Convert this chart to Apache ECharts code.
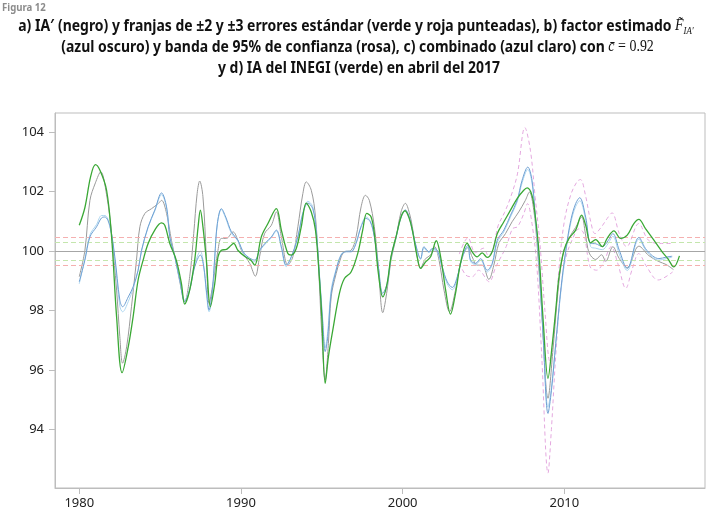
<!DOCTYPE html>
<html><head><meta charset="utf-8">
<script src="https://cdn.jsdelivr.net/npm/echarts@6/dist/echarts.min.js"></script>
<style>html,body{margin:0;padding:0;background:#fff}#c{width:713px;height:515px}</style>
</head><body><div id="c"></div>
<script>
// ---- data (year, value) ----
const xTicks = [1980, 1990, 2000, 2010];
const yTicks = [94, 96, 98, 100, 102, 104];
const baseLine = [100];
const greenBand = [100.31, 99.69];   // ±2 s.e.
const redBand = [100.465, 99.535];   // ±3 s.e.

const iaGray = [
[1980.0,99.14],[1980.35,100.03],[1980.66,101.71],[1981.0,102.3],[1981.33,102.67],[1981.69,101.9],[1982.0,100.59],[1982.31,98.69],[1982.51,97.12],[1982.68,96.23],[1982.93,96.78],[1983.23,98.13],[1983.54,99.70],[1983.75,100.82],[1984.06,101.27],[1984.47,101.43],[1984.88,101.60],[1985.09,101.71],[1985.4,101.27],[1985.7,100.37],[1986.0,99.59],[1986.32,98.69],[1986.52,98.30],[1986.83,99.14],[1987.08,100.59],[1987.29,101.94],[1987.45,102.36],[1987.65,101.83],[1987.86,99.81],[1988.03,98.24],[1988.27,98.91],[1988.58,100.03],[1988.79,100.43],[1989.1,100.43],[1989.51,100.65],[1989.81,100.37],[1990.03,100.03],[1990.54,99.59],[1990.89,99.16],[1991.15,99.81],[1991.46,100.59],[1991.88,100.87],[1992.19,101.32],[1992.5,100.48],[1992.9,99.53],[1993.21,99.81],[1993.52,100.82],[1993.83,101.94],[1994.04,102.33],[1994.35,102.05],[1994.61,101.15],[1994.8,99.47],[1995.0,97.23],[1995.21,95.66],[1995.41,96.9],[1995.58,98.46],[1995.89,99.25],[1996.2,99.81],[1996.4,99.98],[1996.81,100.03],[1997.12,100.48],[1997.43,101.49],[1997.7,101.88],[1997.94,101.71],[1998.25,100.82],[1998.5,99.47],[1998.77,97.93],[1999.04,98.69],[1999.28,99.70],[1999.59,100.43],[1999.9,101.32],[2000.17,101.61],[2000.41,101.3],[2000.6,100.82],[2000.9,99.81],[2001.11,99.45],[2001.42,99.75],[2001.73,99.87],[2001.98,100.15],[2002.25,99.70],[2002.56,98.69],[2002.9,97.96],[2003.27,98.69],[2003.58,99.59],[2004.04,100.12],[2004.3,99.81],[2004.61,99.53],[2004.92,99.53],[2005.33,99.05],[2005.64,99.53],[2005.95,100.26],[2006.36,100.59],[2006.77,100.99],[2007.18,101.32],[2007.59,101.71],[2007.84,101.99],[2008.11,101.38],[2008.31,100.26],[2008.6,98.0],[2008.99,95.05],[2009.3,96.7],[2009.6,98.6],[2009.9,99.85],[2010.3,100.45],[2010.7,100.8],[2011.07,101.15],[2011.3,100.6],[2011.45,100.1],[2011.63,99.85],[2011.94,99.72],[2012.3,99.88],[2012.56,99.66],[2013.0,100.15],[2013.4,99.75],[2013.89,99.45],[2014.61,100.17],[2015.23,99.85],[2015.85,99.65],[2016.3,99.55],[2016.75,99.38]
];

const factorBlue = [
[1980.0,98.97],[1980.35,99.70],[1980.66,100.48],[1981.07,100.82],[1981.38,101.12],[1981.59,101.15],[1981.9,100.82],[1982.2,99.81],[1982.51,98.35],[1982.68,98.13],[1983.03,98.46],[1983.33,98.8],[1983.64,99.36],[1983.85,100.03],[1984.26,100.82],[1984.67,101.38],[1985.09,101.96],[1985.4,101.49],[1985.6,100.48],[1985.91,99.81],[1986.22,99.03],[1986.52,98.3],[1986.83,98.69],[1987.14,99.47],[1987.49,99.87],[1987.7,99.47],[1987.86,98.69],[1988.03,98.02],[1988.23,98.69],[1988.38,99.81],[1988.54,100.93],[1988.79,101.43],[1989.06,101.15],[1989.41,100.65],[1989.81,100.37],[1990.22,99.92],[1990.85,99.70],[1991.15,100.03],[1991.57,100.31],[1991.88,100.48],[1992.19,100.71],[1992.5,100.15],[1992.8,99.53],[1993.11,99.81],[1993.52,100.48],[1993.83,101.27],[1994.14,101.62],[1994.44,101.43],[1994.65,100.71],[1994.86,99.14],[1995.06,97.57],[1995.21,96.62],[1995.37,97.12],[1995.58,98.58],[1995.89,99.36],[1996.2,99.87],[1996.51,99.98],[1996.81,99.98],[1997.12,100.26],[1997.43,100.82],[1997.74,101.1],[1998.0,100.99],[1998.25,100.48],[1998.5,99.47],[1998.77,98.58],[1999.04,98.91],[1999.28,99.81],[1999.59,100.48],[1999.9,101.15],[2000.17,101.39],[2000.41,101.15],[2000.6,100.71],[2000.9,100.03],[2001.11,99.75],[2001.32,100.15],[2001.63,99.98],[2001.83,100.09],[2002.14,100.03],[2002.45,99.47],[2002.76,98.97],[2003.07,98.78],[2003.38,99.14],[2003.69,99.81],[2004.04,100.2],[2004.2,99.70],[2004.51,99.59],[2004.82,99.75],[2005.23,99.36],[2005.54,99.59],[2005.85,100.37],[2006.26,100.71],[2006.67,101.21],[2007.08,101.71],[2007.39,102.39],[2007.74,102.83],[2008.0,102.39],[2008.21,101.15],[2008.42,99.81],[2008.7,97.0],[2008.99,94.54],[2009.2,95.3],[2009.47,96.9],[2009.78,98.69],[2010.09,100.03],[2010.4,101.04],[2010.7,101.6],[2010.95,101.8],[2011.32,101.15],[2011.63,100.26],[2011.94,100.25],[2012.35,100.15],[2012.7,100.35],[2013.0,100.59],[2013.4,100.03],[2013.89,99.42],[2014.61,100.46],[2015.1,100.03],[2015.85,99.75],[2016.3,99.8],[2016.67,99.83]
];

const combinedLight = [
[1980.0,98.9],[1980.35,99.75],[1980.66,100.55],[1981.07,100.9],[1981.38,101.2],[1981.59,101.2],[1981.9,100.85],[1982.2,99.7],[1982.51,98.15],[1982.68,97.96],[1983.03,98.3],[1983.33,98.75],[1983.64,99.35],[1983.85,100.0],[1984.26,100.8],[1984.67,101.35],[1985.09,101.9],[1985.4,101.45],[1985.6,100.5],[1985.91,99.8],[1986.22,99.0],[1986.52,98.35],[1986.83,98.75],[1987.14,99.55],[1987.49,100.0],[1987.7,99.5],[1987.86,98.6],[1988.03,97.96],[1988.23,98.6],[1988.38,99.75],[1988.54,100.9],[1988.79,101.4],[1989.06,101.1],[1989.41,100.6],[1989.81,100.35],[1990.22,99.88],[1990.85,99.65],[1991.15,100.0],[1991.57,100.28],[1991.88,100.45],[1992.19,100.68],[1992.5,100.1],[1992.8,99.48],[1993.11,99.78],[1993.52,100.5],[1993.83,101.3],[1994.14,101.68],[1994.44,101.5],[1994.65,100.75],[1994.86,99.2],[1995.06,97.7],[1995.21,96.75],[1995.37,97.3],[1995.58,98.7],[1995.89,99.4],[1996.2,99.9],[1996.51,100.0],[1996.81,100.0],[1997.12,100.3],[1997.43,100.85],[1997.74,101.15],[1998.0,101.02],[1998.25,100.5],[1998.5,99.45],[1998.77,98.5],[1999.04,98.85],[1999.28,99.78],[1999.59,100.45],[1999.9,101.12],[2000.17,101.35],[2000.41,101.12],[2000.6,100.68],[2000.9,100.0],[2001.11,99.72],[2001.32,100.1],[2001.63,99.95],[2001.83,100.05],[2002.14,99.98],[2002.45,99.4],[2002.76,98.9],[2003.07,98.7],[2003.38,99.1],[2003.69,99.78],[2004.04,100.15],[2004.2,99.65],[2004.51,99.55],[2004.82,99.7],[2005.23,99.3],[2005.54,99.55],[2005.85,100.3],[2006.26,100.65],[2006.67,101.15],[2007.08,101.65],[2007.39,102.3],[2007.74,102.75],[2008.0,102.3],[2008.21,101.05],[2008.42,99.7],[2008.7,97.1],[2008.99,94.75],[2009.2,95.4],[2009.47,96.9],[2009.78,98.6],[2010.09,99.95],[2010.4,100.95],[2010.7,101.5],[2010.95,101.7],[2011.32,101.05],[2011.63,100.15],[2011.94,100.1],[2012.35,100.05],[2012.7,100.25],[2013.0,100.5],[2013.4,99.9],[2013.89,99.35],[2014.61,100.4],[2015.1,99.98],[2015.85,99.7],[2016.3,99.75],[2016.67,99.8]
];

const bandUpper = [
[2003.5,99.9],[2004.04,100.45],[2004.5,99.95],[2005.0,100.1],[2005.3,99.85],[2005.6,100.1],[2005.9,100.85],[2006.3,101.3],[2006.7,101.85],[2007.1,102.6],[2007.56,104.16],[2007.9,103.4],[2008.2,101.8],[2008.5,100.2],[2008.8,98.0],[2009.1,96.3],[2009.4,97.5],[2009.7,99.6],[2010.0,101.0],[2010.4,101.9],[2010.8,102.35],[2011.0,102.41],[2011.3,101.9],[2011.63,101.0],[2011.9,100.59],[2012.3,100.82],[2012.65,101.1],[2012.95,101.29],[2013.4,100.59],[2013.85,100.15],[2014.6,100.93],[2015.2,100.37],[2015.9,100.26],[2016.7,100.26]
];

const bandLower = [
[2003.5,99.6],[2003.92,99.19],[2004.3,99.14],[2004.7,99.36],[2005.35,98.97],[2005.76,99.47],[2006.4,100.15],[2006.8,100.76],[2007.1,100.82],[2007.5,101.27],[2007.72,101.6],[2008.0,100.93],[2008.3,99.5],[2008.6,96.5],[2008.99,92.53],[2009.2,94.0],[2009.47,96.5],[2009.8,98.8],[2010.1,99.8],[2010.5,100.4],[2010.9,100.75],[2011.2,100.6],[2011.6,99.47],[2012.0,99.36],[2012.4,99.6],[2012.9,100.15],[2013.3,99.6],[2013.8,98.75],[2014.2,99.4],[2014.6,99.92],[2015.1,99.47],[2015.8,99.03],[2016.7,99.3]
];

const inegiGreen = [
[1980.0,100.87],[1980.35,101.47],[1980.7,102.5],[1981.0,102.91],[1981.28,102.72],[1981.69,102.05],[1982.0,100.48],[1982.31,97.79],[1982.65,95.91],[1983.03,96.78],[1983.33,97.79],[1983.64,99.03],[1983.95,99.70],[1984.26,100.26],[1984.67,100.71],[1985.08,100.95],[1985.29,100.87],[1985.6,100.26],[1986.0,99.70],[1986.32,98.91],[1986.52,98.22],[1986.83,98.69],[1987.14,99.70],[1987.35,100.82],[1987.49,101.38],[1987.65,100.82],[1987.86,99.70],[1988.11,98.13],[1988.38,98.91],[1988.58,99.81],[1988.79,100.03],[1989.1,100.06],[1989.3,100.15],[1989.55,100.26],[1989.81,100.03],[1990.22,99.83],[1990.6,99.7],[1990.85,99.53],[1991.26,100.48],[1991.67,100.93],[1992.19,101.43],[1992.5,100.71],[1992.9,99.92],[1993.11,99.87],[1993.42,100.09],[1993.73,100.82],[1994.04,101.62],[1994.35,101.32],[1994.61,100.71],[1994.86,99.03],[1995.0,97.79],[1995.21,95.55],[1995.41,96.45],[1995.68,97.34],[1996.09,98.58],[1996.4,99.08],[1996.81,99.30],[1997.22,99.92],[1997.53,100.71],[1997.78,101.27],[1998.05,101.15],[1998.25,100.59],[1998.5,99.25],[1998.77,98.46],[1999.04,98.91],[1999.28,99.81],[1999.59,100.48],[1999.9,101.15],[2000.15,101.36],[2000.41,101.1],[2000.6,100.71],[2000.9,99.81],[2001.11,99.42],[2001.42,99.64],[2001.73,99.81],[2002.08,100.35],[2002.35,99.81],[2002.66,98.69],[2002.96,97.88],[2003.27,98.58],[2003.58,99.59],[2003.99,100.26],[2004.3,99.98],[2004.61,99.81],[2004.92,99.94],[2005.23,99.79],[2005.54,99.98],[2005.85,100.59],[2006.26,100.99],[2006.67,101.38],[2007.08,101.77],[2007.49,102.05],[2007.7,102.13],[2008.0,101.88],[2008.21,101.15],[2008.42,100.03],[2008.7,97.6],[2008.99,95.72],[2009.26,96.9],[2009.47,98.02],[2009.67,99.14],[2009.98,100.03],[2010.29,100.43],[2010.7,100.71],[2011.07,101.21],[2011.32,100.87],[2011.63,100.28],[2011.94,100.39],[2012.35,100.15],[2012.65,100.43],[2013.07,100.68],[2013.48,100.43],[2013.89,100.54],[2014.3,100.93],[2014.61,101.07],[2015.02,100.76],[2015.54,100.37],[2016.05,99.98],[2016.4,99.75],[2016.77,99.47],[2017.12,99.84]
];

const titleLines = [
  'a) IA\u2032 (negro) y franjas de \u00b12 y \u00b13 errores est\u00e1ndar (verde y roja punteadas), b) factor estimado ',
  '(azul oscuro) y banda de 95% de confianza (rosa), c) combinado (azul claro) con ',
  'y d) IA del INEGI (verde) en abril del 2017'
];

// ---- chart ----
const chart = echarts.init(document.getElementById('c'), null, {renderer: 'canvas'});
const TF = '"Noto Sans", "DejaVu Sans", sans-serif';
const SERIF = '"Liberation Serif", "DejaVu Serif", serif';
const TFONT = 'bold 16px ' + TF;

// horizontal condensing factor so the bold sans behaves like a condensed face
const mctx = document.createElement('canvas').getContext('2d');
mctx.font = TFONT;
const condense = 282 / mctx.measureText(titleLines[2]).width;

function line(name, data, color, width, type, z) {
  return {name, type: 'line', data, showSymbol: false, smooth: 0.35,
    lineStyle: {color, width, type}, z, silent: true, animation: false};
}
function hLine(v, color, type) {
  return {yAxis: v, lineStyle: {color, type, width: 1}};
}

const gray = line('IA\u2032', iaGray, '#9a9a9a', 1, 'solid', 3);
gray.markLine = {
  symbol: ['none', 'none'], silent: true, label: {show: false}, animation: false,
  data: [
    hLine(baseLine[0], '#a6a6a6', 'solid'),
    hLine(greenBand[0], '#c4e6ad', [5, 3]), hLine(greenBand[1], '#c4e6ad', [5, 3]),
    hLine(redBand[0], '#f5b0b0', [5, 3]), hLine(redBand[1], '#f5b0b0', [5, 3])
  ]
};

const richBase = {
  t: {font: TFONT, fill: '#111', lineHeight: 20},
  m: {font: 'italic 16px ' + SERIF, fill: '#111', lineHeight: 20},
  r: {font: '16px ' + SERIF, fill: '#111', lineHeight: 20},
  s: {font: 'italic 10px ' + SERIF, fill: '#111', lineHeight: 20, verticalAlign: 'bottom', padding: [7, 0, 0, 0]}
};

chart.setOption({
  animation: false,
  grid: {left: 55, top: 113, right: 8, bottom: 27, show: true, borderColor: '#bdbdbd', borderWidth: 1},
  xAxis: {
    type: 'value', min: 1978.5, max: 2018.7,
    axisLine: {show: true, lineStyle: {color: '#bdbdbd'}},
    axisTick: {show: true, customValues: xTicks, length: 6, lineStyle: {color: '#bdbdbd'}},
    axisLabel: {customValues: xTicks, color: '#222', fontSize: 13, margin: 9,
      fontFamily: '"Noto Sans", sans-serif', formatter: v => String(v)},
    splitLine: {show: false}
  },
  yAxis: {
    type: 'value', min: 92.03, max: 104.65,
    axisLine: {show: true, lineStyle: {color: '#bdbdbd'}},
    axisTick: {show: true, customValues: yTicks, length: 6, lineStyle: {color: '#bdbdbd'}},
    axisLabel: {customValues: yTicks, color: '#222', fontSize: 13, margin: 11,
      fontFamily: '"Noto Sans", sans-serif', formatter: v => String(v)},
    splitLine: {show: false}
  },
  graphic: [
    {type: 'text', x: 2, y: 2, scaleX: condense, style: {text: 'Figura 12', fill: '#8c8c8c', font: 'bold 11px ' + TF}},
    {type: 'text', x: 356, y: 26, scaleX: condense, style: {
      text: '{t|' + titleLines[0] + '}{m|F\u0303}{s|IA\u2032}',
      textAlign: 'center', textVerticalAlign: 'middle', rich: richBase}},
    {type: 'text', x: 357.5, y: 47, scaleX: condense, style: {
      text: '{t|' + titleLines[1] + '}{m|c\u0304}{r| = 0.92}',
      textAlign: 'center', textVerticalAlign: 'middle', rich: richBase}},
    {type: 'text', x: 359, y: 68, scaleX: condense, style: {
      text: titleLines[2], textAlign: 'center', textVerticalAlign: 'middle',
      font: TFONT, fill: '#111'}}
  ],
  series: [
    line('banda sup', bandUpper, '#e4a8df', 1, [4, 3], 1),
    line('banda inf', bandLower, '#e4a8df', 1, [4, 3], 1),
    gray,
    line('combinado', combinedLight, '#acd6f0', 1, 'solid', 4),
    line('factor', factorBlue, '#6e9fd2', 1, 'solid', 5),
    line('IA INEGI', inegiGreen, '#3aa835', 1.3, 'solid', 6)
  ]
});
</script></body></html>
